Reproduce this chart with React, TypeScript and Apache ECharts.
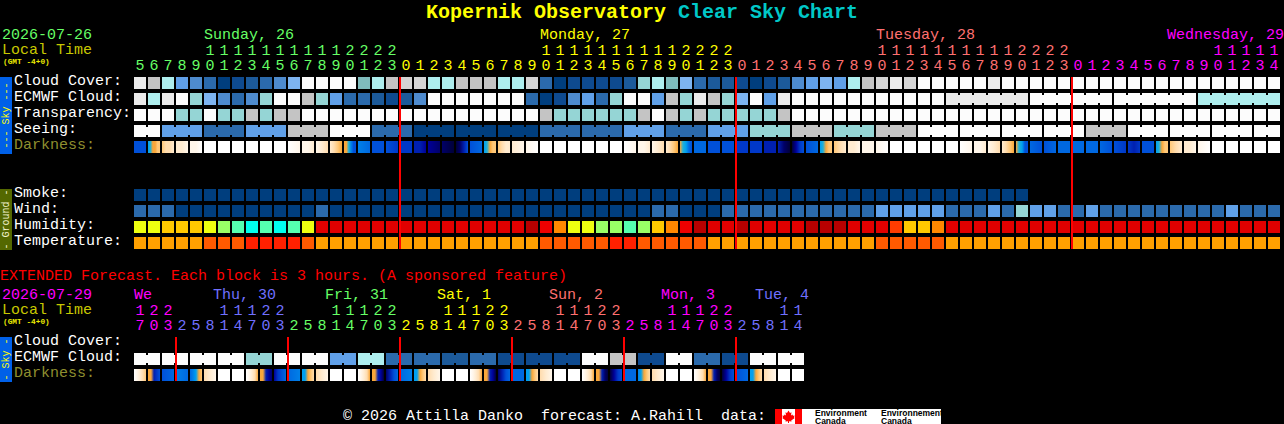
import React, { useEffect, useRef } from "react";
import * as echarts from "echarts";

// ---------- categories / tick labels ----------
const hoursMain = [
  5,6,7,8,9,10,11,12,13,14,15,16,17,18,19,20,21,22,23,
  0,1,2,3,4,5,6,7,8,9,10,11,12,13,14,15,16,17,18,19,20,21,22,23,
  0,1,2,3,4,5,6,7,8,9,10,11,12,13,14,15,16,17,18,19,20,21,22,23,
  0,1,2,3,4,5,6,7,8,9,10,11,12,13,14,
];
const hoursExt = [
  17,20,23,
  2,5,8,11,14,17,20,23,
  2,5,8,11,14,17,20,23,
  2,5,8,11,14,17,20,23,
  2,5,8,11,14,17,20,23,
  2,5,8,11,14,17,20,23,
  2,5,8,11,14,
];
const rowsMain = ["Cloud Cover:", "ECMWF Cloud:", "Transparency:", "Seeing:", "Darkness:", "gap1", "gap2", "Smoke:", "Wind:", "Humidity:", "Temperature:"];
const rowsExt = ["Cloud Cover:", "ECMWF Cloud:", "Darkness:"];

// first cell of each day on the hour axis, and the day it belongs to
const dayStartsMain = [0, 19, 43, 67];
const dayStartsExt = [0, 3, 11, 19, 27, 35, 43];
const midnightsMain = [19, 43, 67];
const midnightsExt = [3, 11, 19, 27, 35, 43];

// ---------- values (indices on the Clear Sky Chart scales) ----------
const cloudCover = [
  12,10,9,5,4,3,0,1,2,3,4,6,13,13,13,13,7,9,10,11,11,
  9,9,10,10,10,9,9,11,3,0,1,1,1,1,2,8,9,7,6,3,2,2,1,0,1,2,4,5,6,5,
  9,10,11,12,11,13,13,13,13,13,12,13,13,13,13,13,13,13,13,13,13,13,13,13,13,13,13,13,13,13,13,
];
const ecmwfCloud = [
  12,9,12,13,8,6,4,3,4,8,13,13,10,8,5,3,3,2,1,2,4,
  13,13,13,13,13,13,13,3,0,1,4,5,3,8,13,13,5,10,8,12,10,8,6,13,5,12,13,13,13,13,13,
  13,13,13,13,13,13,12,12,12,12,12,12,13,13,13,13,13,13,13,13,13,13,13,13,9,9,9,9,9,9,
];
const ecmwfBlocks = [1,1,1,1,1,1,1,1,1,1,1,1,1,1,1,1,1,1,1,1,1,1,1,1,1,1,1,1,1,1,1,1,1,1,1,1,1,1,1,1,1,1,1,1,1,1,1,1,1,1,1,1,1,1,1,1,1,1,6,6,6,6];
const transparency = [
  13,13,13,8,8,13,8,8,10,8,10,10,13,13,13,13,13,13,13,13,13,
  13,13,13,13,13,13,13,13,10,8,8,8,8,8,8,10,13,10,8,10,8,8,8,8,8,10,13,13,13,13,13,
  13,13,13,13,13,13,13,13,13,13,13,13,13,13,13,13,13,13,13,13,13,13,13,13,13,13,13,13,13,13,
];
const seeing = [
  13,13,5,5,5,3,3,3,5,5,5,10,10,10,13,13,13,3,3,3,0,
  0,0,0,0,0,0,0,0,3,3,3,3,3,3,5,5,5,3,3,3,5,5,5,8,8,8,10,10,10,8,8,
  8,10,10,10,13,13,13,13,13,13,13,13,13,13,13,13,10,10,10,13,13,13,13,13,13,13,13,13,13,13,
];
const seeingBlocks = [2,3,3,3,3,3,3,3,3,3,3,3,3,3,3,3,3,3,3,3,3,3,3,3,3,3,3,2];
const smoke = [
  0,0,0,0,0,0,0,0,0,0,0,0,0,0,0,0,0,0,0,0,0,
  0,0,0,0,0,0,0,0,0,0,0,0,0,0,0,0,0,0,0,0,0,0,0,0,0,0,0,0,0,0,0,
  0,0,0,0,0,0,0,0,0,0,0,0,
];
const wind = [
  3,3,3,0,0,0,0,0,0,0,0,0,0,3,0,0,0,0,0,0,0,
  0,0,0,0,0,0,0,0,0,0,0,0,0,0,0,0,3,3,0,0,0,3,3,3,3,3,3,3,3,3,3,
  3,5,5,5,5,5,3,3,3,5,3,8,5,5,3,3,5,3,3,3,3,3,3,3,3,3,5,3,3,3,
];
const humidity = [
  6,6,5,5,5,6,7,8,9,8,9,8,6,1,1,1,1,1,1,1,1,
  1,1,1,1,1,1,1,0,2,4,6,6,7,7,8,7,5,4,2,0,1,1,0,1,1,1,1,0,0,0,1,
  1,1,3,5,5,4,1,1,1,1,1,1,1,1,1,1,1,1,1,1,1,1,1,1,1,1,1,1,1,1,
];
const temperature = [
  2,2,2,2,2,1,1,1,0,0,0,0,1,2,2,2,2,2,2,2,2,
  2,2,2,2,2,2,2,2,1,1,1,1,1,0,0,1,1,1,1,1,2,2,2,2,2,2,2,2,2,2,2,
  2,1,1,1,1,1,2,2,2,2,2,2,2,2,2,2,2,2,2,2,2,2,2,2,2,2,2,2,2,2,
];
const darknessMain = [
  [10],[7,6,5,5,4,4],[4,3,3,2],[2,2,1],[1,1,0],[0],[0],[0],[0],[0],[0],[0,1],[1,1,2],[1,2,3],[2,3,4,5],[5,5,6,8,10,10],[8,9],[10],[10,11],[11],[12,12,13],
  [13,14],[14,15],[15,14,12,10],[10,9],[7,6,5,4,4],[4,3,2,2],[2,1],[1,0],[0],[0],[0],[0],[0],[0],[0,1],[1,1,2],[1,2,3],[2,3,4,5],[5,6,7,9,10],[9],[10],[10],[11],[11],[12],[12,14,15],[15,13,11,10],[10,9],[7,6,5,4,4],[4,3,2],[2,2,1],
  [1],[1,0],[0],[0],[0],[0],[0],[0,1],[1,1,2],[1,2,3],[2,3,4,5],[5,6,7,10,10],[9,10],[10,9],[9],[9],[9],[9,10],[10,11],[11,12,11],[10],[7,6,5,4,4],[4,3,2],[2,2,1],[1,0],[0],[0],[0],[0],[0],
];
const ecmwfExt = [13,13,13,13,13,13,13,13,8,8,13,13,13,13,5,5,9,9,3,3,3,3,2,2,3,3,1,1,1,1,1,1,13,13,10,10,1,1,13,13,3,3,1,1,13,13,13,13];
const ecmwfExtBlocks = [2,2,2,2,2,2,2,2,2,2,2,2,2,2,2,2,2,2,2,2,2,2,2,2];
const darknessExt = [
  [0,1,2,3,4],[5,5,12,11,10],[10,9],[8,9],[9,8,7,5,4],[3,2,1],[0],[0],
  [0,1,2,3,5],[5,5,12,13,14],[13,11,10,9],[9,8],[7,7,5,4,3],[3,2,1],[0],[0],
  [0,1,2,3,5],[5,5,12,13,15],[14,12,10,9],[9,8],[7,7,5,4,3],[3,2,1],[0],[0],
  [0,1,2,3,5],[5,5,12,13,15],[14,12,10,9],[9],[7,7,5,4,3],[3,2,1],[0],[0],
  [0,1,2,3,5],[5,5,12,14,15],[15,13,11,10],[9],[8,7,5,4,3],[3,2,1],[0],[0],
  [0,1,2,3,5],[5,5,12,14,15],[15,13,11,10],[10,9],[7,7,5,4,3],[3,2,1],[0],[0],
];

// ---------- colour scales ----------
const cloudScale = ["#003e7e","#0e4a8f","#1c5a9a","#2b6aac","#4e8bce","#60a0e8","#7db4f0","#7fbcbd","#95d5d5","#aeeeee","#c4c4c4","#d4d4d4","#ebebeb","#fcfcfc"];
const humidityScale = ["#b80000","#e00000","#ee0000","#ff3c00","#ff8800","#ffc800","#eeff10","#99ff66","#55ffb0","#00ffee"];
const temperatureScale = ["#ff2000","#ff5a00","#ffa000"];
const darkScale = ["#ffffff","#fff6ea","#ffebd0","#ffdcae","#ffc878","#f9a73a","#20b0d8","#00a0f0","#0080e8","#0068e0","#0050d8","#0038c8","#0020b0","#000098","#000068","#000038"];
const dayColorsMain = ["#66ff66", "#ffff00", "#ff7070", "#ff00ff"];
const dayColorsExt = ["#ff00ff", "#7070ff", "#66ff66", "#ffff00", "#ff7070", "#ff00ff", "#7070ff"];

const MONO = "'Liberation Mono', monospace";
const CELL = 12;
const BRIDGE = 8;

const joinFlags = (blocks: number[]) => blocks.flatMap((n) => Array.from({ length: n }, (_, k) => (k > 0 ? 1 : 0)));

function solidRows(rows: { row: number; values: number[]; scale: string[]; blocks?: number[] }[]) {
  const out: any[] = [];
  rows.forEach(({ row, values, scale, blocks }) => {
    const joins = blocks ? joinFlags(blocks) : [];
    values.forEach((v, i) => out.push({ value: [i, row], color: scale[v], joined: joins[i] || 0 }));
  });
  return out;
}
function darkRow(row: number, cells: number[][]) {
  return cells.map((levels, i) => ({ value: [i, row], levels }));
}

function cellSeries(xAxisIndex: number, data: any[]) {
  return {
    type: "custom",
    xAxisIndex,
    yAxisIndex: xAxisIndex,
    clip: false,
    silent: true,
    encode: { x: 0, y: 1 },
    data,
    renderItem: (params: any, api: any) => {
      const d = data[params.dataIndex];
      const [cx, cy] = api.coord([api.value(0), api.value(1)]);
      const x = cx - CELL / 2;
      const y = cy - CELL / 2;
      let fill: any = d.color;
      if (d.levels) {
        if (d.levels.length === 1) fill = darkScale[d.levels[0]];
        else
          fill = new echarts.graphic.LinearGradient(
            0, 0, 1, 0,
            d.levels.map((l: number, k: number) => ({ offset: k / (d.levels.length - 1), color: darkScale[l] }))
          );
      }
      const children: any[] = [{ type: "rect", shape: { x, y, width: CELL, height: CELL }, style: { fill } }];
      if (d.joined) {
        const pitch = api.size([1, 0])[0];
        const gap = pitch - CELL;
        children.push({
          type: "rect",
          shape: { x: x - gap, y: cy - BRIDGE / 2, width: gap, height: BRIDGE },
          style: { fill },
        });
      }
      return { type: "group", children };
    },
  };
}

function midnightSeries(xAxisIndex: number, marks: number[], lastRow: number) {
  return {
    type: "custom",
    xAxisIndex,
    yAxisIndex: xAxisIndex,
    clip: false,
    silent: true,
    z: 5,
    encode: { x: 0 },
    data: marks.map((m) => [m]),
    renderItem: (_: any, api: any) => {
      const idx = api.value(0);
      const [cx, top] = api.coord([idx, 0]);
      const [, bottom] = api.coord([idx, lastRow]);
      return {
        type: "rect",
        shape: { x: cx - CELL / 2 - 1, y: top - CELL / 2, width: 2, height: bottom - top + CELL },
        style: { fill: "#ff0000" },
      };
    },
  };
}

const txt = (text: string, x: number, y: number, fill: string, extra: any = {}) => ({
  type: "text",
  x,
  y,
  silent: true,
  style: { text, x: 0, y: 0, fill, fontFamily: MONO, fontSize: 15, verticalAlign: "middle", align: "left", ...extra },
});
const box = (x: number, y: number, width: number, height: number, fill: string) => ({
  type: "rect",
  silent: true,
  shape: { x, y, width, height },
  style: { fill },
});
const strip = (y: number, h: number, fill: string, text: string, color: string) => [
  box(0, y, 12, h, fill),
  { ...txt(text, 6, y + h / 2, color, { fontSize: 10, align: "center" }), rotation: Math.PI / 2 },
];

const dayIndex = (starts: number[], i: number) => {
  let k = 0;
  starts.forEach((s, j) => { if (i >= s) k = j; });
  return k;
};
const hourAxis = (gridIndex: number, hours: number[], starts: number[], colors: string[]) => ({
  type: "category",
  gridIndex,
  position: "top",
  data: hours.map((h, i) => ({ value: `${i}:${h}` })),
  axisLine: { show: false },
  axisTick: { show: false },
  splitLine: { show: false },
  axisLabel: {
    interval: 0,
    margin: 1,
    hideOverlap: false,
    fontFamily: MONO,
    fontSize: 15,
    lineHeight: 15,
    verticalAlign: "bottom",
    formatter: (v: string) => {
      const h = Number(v.split(":")[1]);
      return h >= 10 ? `${Math.floor(h / 10)}\n${h % 10}` : `${h}`;
    },
    color: (_: any, i: number) => colors[dayIndex(starts, i)],
  },
});
const rowAxis = (gridIndex: number, rows: string[]) => ({
  type: "category",
  gridIndex,
  inverse: true,
  data: rows,
  axisLine: { show: false },
  axisTick: { show: false },
  splitLine: { show: false },
  axisLabel: {
    interval: 0,
    margin: 119,
    align: "left",
    verticalAlign: "bottom",
    lineHeight: 3,
    fontFamily: MONO,
    fontSize: 15,
    formatter: (v: string) => (v.startsWith("gap") ? "" : v),
    color: (v: string) => (v === "Darkness:" ? "#8f8f2f" : "#ffffff"),
  },
});

const mainData = [
  ...solidRows([
    { row: 0, values: cloudCover, scale: cloudScale },
    { row: 1, values: ecmwfCloud, scale: cloudScale, blocks: ecmwfBlocks },
    { row: 2, values: transparency, scale: cloudScale },
    { row: 3, values: seeing, scale: cloudScale, blocks: seeingBlocks },
    { row: 7, values: smoke, scale: cloudScale },
    { row: 8, values: wind, scale: cloudScale },
    { row: 9, values: humidity, scale: humidityScale },
    { row: 10, values: temperature, scale: temperatureScale },
  ]),
  ...darkRow(4, darknessMain),
];
const extData = [
  ...solidRows([{ row: 1, values: ecmwfExt, scale: cloudScale, blocks: ecmwfExtBlocks }]),
  ...darkRow(2, darknessExt),
];

const mapleLeaf = [
  [788.5,410.5],[790,413],[791.5,412.3],[791,415.5],[792.5,414.5],[793,415.8],[794.6,415.5],[794,417.5],[794.8,418],[791.2,420.6],[791.6,421.6],[789,421.2],[789,423],[788,423],[788,421.2],[785.4,421.6],[785.8,420.6],[782.2,418],[783,417.5],[782.4,415.5],[784,415.8],[784.5,414.5],[786,415.5],[785.5,412.3],[787,413],
];

const graphicElements: any[] = [
  txt("Kopernik Observatory", 426, 12, "#ffff00", { fontSize: 20, fontWeight: "bold" }),
  txt("Clear Sky Chart", 678, 12, "#00c8c8", { fontSize: 20, fontWeight: "bold" }),
  txt("2026-07-26", 2, 35, "#66ff66"),
  txt("Local Time", 2, 50, "#c8c800"),
  txt("(GMT -4+0)", 3, 62, "#e8e800", { fontSize: 7.8, fontWeight: "bold" }),
  txt("Sunday, 26", 204, 35, "#66ff66"),
  txt("Monday, 27", 540, 35, "#ffff00"),
  txt("Tuesday, 28", 876, 35, "#ff7070"),
  txt("Wednesday, 29", 1284, 35, "#ff00ff", { align: "right" }),
  ...strip(77, 77, "#0060e8", "--- Sky ---", "#ffff00"),
  ...strip(189, 61, "#546800", "- Ground -", "#f4f4d0"),
  txt("EXTENDED Forecast. Each block is 3 hours. (A sponsored feature)", 0, 276, "#ff0000"),
  txt("2026-07-29", 2, 295, "#ff00ff"),
  txt("Local Time", 2, 310, "#c8c800"),
  txt("(GMT -4+0)", 3, 322, "#e8e800", { fontSize: 7.8, fontWeight: "bold" }),
  txt("We", 134, 295, "#ff00ff"),
  txt("Thu, 30", 213, 295, "#7070ff"),
  txt("Fri, 31", 325, 295, "#66ff66"),
  txt("Sat, 1", 437, 295, "#ffff00"),
  txt("Sun, 2", 549, 295, "#ff7070"),
  txt("Mon, 3", 661, 295, "#ff00ff"),
  txt("Tue, 4", 755, 295, "#7070ff"),
  ...strip(337, 45, "#0060e8", "- Sky -", "#ffff00"),
  txt("© 2026 Attilla Danko  forecast: A.Rahill  data:", 343, 416, "#ffffff"),
  box(775, 409, 166, 15, "#ffffff"),
  box(775, 409, 7, 15, "#ff0000"),
  box(795, 409, 7, 15, "#ff0000"),
  { type: "polygon", silent: true, shape: { points: mapleLeaf }, style: { fill: "#ff0000" } },
  txt("Environment", 815, 412.5, "#000000", { fontFamily: "'Liberation Sans', sans-serif", fontSize: 8.5, fontWeight: "bold" }),
  txt("Canada", 815, 420.5, "#000000", { fontFamily: "'Liberation Sans', sans-serif", fontSize: 8.5, fontWeight: "bold" }),
  txt("Environnement", 881, 412.5, "#000000", { fontFamily: "'Liberation Sans', sans-serif", fontSize: 8.5, fontWeight: "bold" }),
  txt("Canada", 881, 420.5, "#000000", { fontFamily: "'Liberation Sans', sans-serif", fontSize: 8.5, fontWeight: "bold" }),
];

export default function App() {
  const ref = useRef<HTMLDivElement>(null);
  useEffect(() => {
    document.body.style.margin = "0";
    document.body.style.background = "#000";
    const chart = echarts.init(ref.current!, undefined, { renderer: "svg" });
    chart.setOption({
      animation: false,
      backgroundColor: "#000000",
      grid: [
        { left: 133, top: 75, width: 14 * hoursMain.length, height: 16 * rowsMain.length },
        { left: 133, top: 335, width: 14 * hoursExt.length, height: 16 * rowsExt.length },
      ],
      xAxis: [
        hourAxis(0, hoursMain, dayStartsMain, dayColorsMain),
        hourAxis(1, hoursExt, dayStartsExt, dayColorsExt),
      ],
      yAxis: [rowAxis(0, rowsMain), rowAxis(1, rowsExt)],
      series: [
        cellSeries(0, mainData),
        cellSeries(1, extData),
        midnightSeries(0, midnightsMain, rowsMain.length - 1),
        midnightSeries(1, midnightsExt, rowsExt.length - 1),
      ],
      graphic: { elements: graphicElements },
    });
    return () => chart.dispose();
  }, []);
  return (
    <div
      ref={ref}
      style={{ position: "absolute", left: 0, top: 0, width: 1284, height: 424, background: "#000", overflow: "hidden" }}
    />
  );
}
